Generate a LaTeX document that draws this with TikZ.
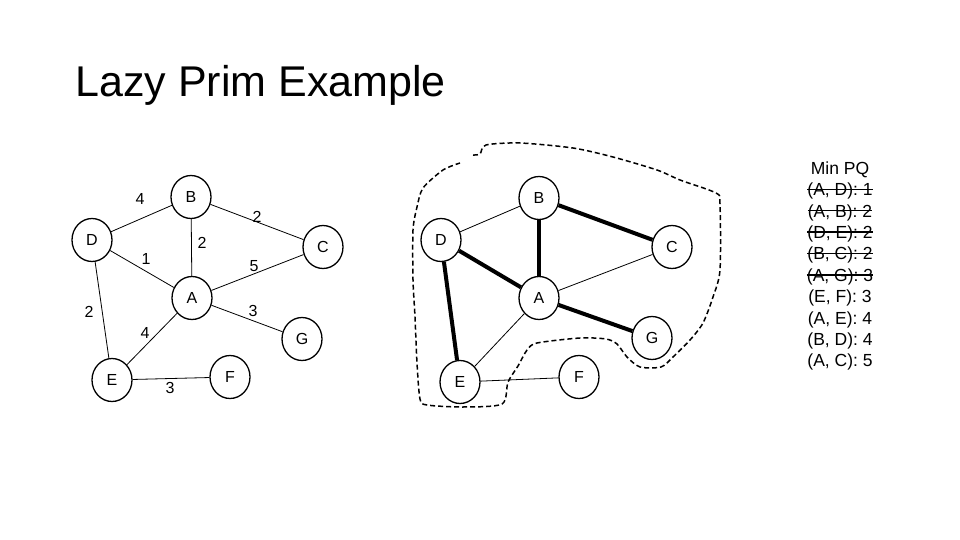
\documentclass[tikz,border=0pt]{standalone}
\usepackage{fontspec}
\setmainfont{Liberation Sans}
\usetikzlibrary{shapes.geometric}

\newcommand\crossed[1]{\setbox0\hbox{#1}\rlap{\rule[0.32em]{\wd0}{1.4pt}}\box0}

\begin{document}
\begin{tikzpicture}[
    x=1pt, y=-1pt,
    vert/.style={draw, line width=1.3pt, ellipse, minimum width=40pt, minimum height=43pt, inner sep=0pt, font=\fontsize{16}{18}\selectfont},
    wt/.style={font=\fontsize{16}{18}\selectfont, inner sep=1pt},
    lite/.style={line width=0.8pt},
    heavy/.style={line width=4pt},
    cut/.style={line width=1.5pt, dash pattern=on 5pt off 3pt}]
  \useasboundingbox (0,0) rectangle (960,540);
  \node[anchor=base west, font=\fontsize{43}{48}\selectfont] (title) at (72,97) {Lazy Prim Example};

  % left graph
  \foreach \n/\x/\y in {B/191/197, D/92/240, C/323/247, A/192/298, G/302/339, E/112/380, F/230/377}
    \node[vert] (L\n) at (\x,\y) {\n};
  \foreach \a/\b in {D/B, B/C, B/A, D/A, A/C, D/E, A/E, A/G, E/F}
    \draw[lite] (L\a) -- (L\b);
  \foreach \w/\x/\y [count=\i] in {4/140/199, 2/257/217, 2/202/243, 1/146/259, 5/254/266, 2/89/312, 4/145/333, 3/253/311, 3/170/388}
    \node[wt] (w\i) at (\x,\y) {\w};

  % right graph
  \foreach \n/\x/\y in {B/539/198, D/441/240, C/672/247, A/539/298, G/652/338, E/460/382, F/579/377}
    \node[vert] (R\n) at (\x,\y) {\n};
  \foreach \a/\b in {D/B, A/C, A/E, E/F}
    \draw[lite] (R\a) -- (R\b);
  \foreach \a/\b in {B/C, B/A, D/A, D/E, A/G}
    \draw[heavy] (R\a) -- (R\b);

  % cut round the tree so far
  \draw[cut] plot[smooth, tension=0.45] coordinates {(473,155) (480,154) (486,145) (520,143) (573,148) (613,157)
    (657,170) (680,180) (716,193) (720,204) (720,270) (713,297) (703,323) (690,340) (673,357) (661,367)
    (640,367) (627,357) (617,344) (606,339) (580,338) (537,343) (527,350) (518,366) (508,382) (502,404)
    (463,407) (427,405) (420,399) (417,363) (415,317) (413,280) (413,230) (417,207) (423,188) (443,170) (460,163)};

  % priority queue
  \node[align=center, font=\fontsize{17.5}{21.4}\selectfont] (pq) at (840,266) {Min PQ\\
    \crossed{(A, D): 1}\\ \crossed{(A, B): 2}\\ \crossed{(D, E): 2}\\ \crossed{(B, C): 2}\\ \crossed{(A, G): 3}\\
    (E, F): 3\\ (A, E): 4\\ (B, D): 4\\ (A, C): 5};
\end{tikzpicture}
\end{document}
